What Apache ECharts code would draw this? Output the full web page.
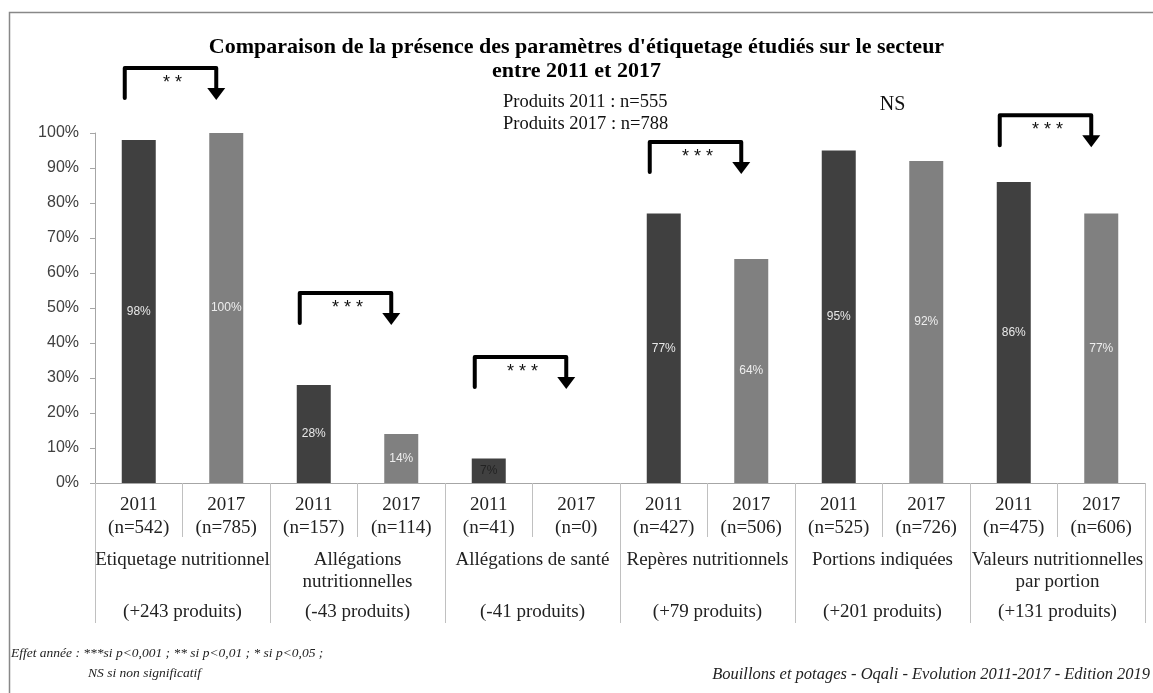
<!DOCTYPE html>
<html><head><meta charset="utf-8">
<script src="https://cdn.jsdelivr.net/npm/echarts@6/dist/echarts.min.js"></script>
<style>html,body{margin:0;padding:0;background:#fff}#c{width:1153px;height:693px}</style>
</head><body><div id="c"></div>
<script>
const groups = ['Etiquetage nutritionnel', 'Allégations\nnutritionnelles', 'Allégations de santé', 'Repères nutritionnels', 'Portions indiquées', 'Valeurs nutritionnelles\npar portion'];
const n2011 = [542, 157, 41, 427, 525, 475];
const n2017 = [785, 114, 0, 506, 726, 606];
const pct2011 = [98, 28, 7, 77, 95, 86];
const pct2017 = [100, 14, 0, 64, 92, 77];
const diffLabels = ['(+243 produits)', '(-43 produits)', '(-41 produits)', '(+79 produits)', '(+201 produits)', '(+131 produits)'];
const signif = ['* *', '* * *', '* * *', '* * *', 'NS', '* * *'];
const bracketLevels = [118.6, 54.3, 36, 97.4, 108, 105.1];
const yTicks = [0, 10, 20, 30, 40, 50, 60, 70, 80, 90, 100];

const cats = [];
const barData = [];
groups.forEach((g, i) => {
  cats.push('2011\n(n=' + n2011[i] + ')');
  cats.push('2017\n(n=' + n2017[i] + ')');
  barData.push({value: pct2011[i], itemStyle: {color: '#404040'}, label: {color: pct2011[i] < 10 ? '#222' : '#e8e8e8'}});
  barData.push({value: pct2017[i], itemStyle: {color: '#808080'}, label: {color: '#eeeeee'}});
});
const groupLabels = groups.map((g, i) => {
  const parts = g.split('\n');
  return (parts[0]) + '\n' + (parts[1] || ' ') + '\n{p|' + diffLabels[i] + '}';
});

const chart = echarts.init(document.getElementById('c'));
const serif = 'Liberation Serif';
chart.setOption({
  animation: false,
  title: {
    text: "Comparaison de la présence des paramètres d'étiquetage étudiés sur le secteur\nentre 2011 et 2017",
    left: 'center', top: 30,
    textStyle: {fontFamily: serif, fontWeight: 'bold', fontSize: 22, lineHeight: 24, color: '#000'}
  },
  grid: {left: 95, right: 8, top: 133, bottom: 210},
  xAxis: [{
    type: 'category', data: cats,
    axisLine: {show: true, lineStyle: {color: '#a6a6a6'}},
    axisTick: {show: true, alignWithLabel: false, interval: 0, length: 54, lineStyle: {color: '#c0c0c0'}},
    axisLabel: {interval: 0, margin: 11, fontFamily: serif, fontSize: 19, lineHeight: 23, color: '#222'}
  }, {
    type: 'category', data: groupLabels, position: 'bottom', offset: 0,
    axisLine: {show: false},
    axisTick: {show: true, alignWithLabel: false, interval: 0, length: 140, lineStyle: {color: '#c0c0c0'}},
    axisLabel: {interval: 0, margin: 66, fontFamily: serif, fontSize: 19, lineHeight: 22, color: '#222',
      rich: {p: {fontFamily: serif, fontSize: 19, lineHeight: 38, color: '#222'}}}
  }],
  yAxis: {
    type: 'value', min: 0, max: 100, interval: 10,
    axisLine: {show: true, lineStyle: {color: '#a6a6a6'}},
    axisTick: {show: true, length: 5, lineStyle: {color: '#a6a6a6'}},
    splitLine: {show: false},
    axisLabel: {formatter: '{value}%', fontFamily: 'Liberation Sans', fontSize: 16, color: '#404040', margin: 16}
  },
  series: [{
    type: 'bar', xAxisIndex: 0, yAxisIndex: 0, data: barData, barWidth: 34,
    label: {show: true, position: 'inside', fontFamily: 'Liberation Sans', fontSize: 12,
      formatter: p => p.value ? p.value + '%' : ''}
  }]
});

const els = [];
els.push({type: 'rect', shape: {x: 9.5, y: 12.5, width: 1300, height: 900}, style: {fill: 'none', stroke: '#888', lineWidth: 1.5}, z: 0, silent: true});
signif.forEach((s, i) => {
  const lv = bracketLevels[i];
  const pL = chart.convertToPixel({xAxisIndex: 0, yAxisIndex: 0}, [2 * i, lv]);
  const pR = chart.convertToPixel({xAxisIndex: 0, yAxisIndex: 0}, [2 * i + 1, lv]);
  if (s === 'NS') {
    els.push({type: 'text', x: (pL[0] + pR[0]) / 2 + 10, y: pL[1], style: {text: 'NS', font: '20px "Liberation Serif"', fill: '#111', align: 'center', verticalAlign: 'middle'}});
    return;
  }
  const xl = pL[0] - 14, xr = pR[0] - 10, yt = pL[1];
  els.push({type: 'polyline', shape: {points: [[xl, yt + 30], [xl, yt], [xr, yt], [xr, yt + 22]]}, style: {stroke: '#000', lineWidth: 4, lineCap: 'round', lineJoin: 'round', fill: null}});
  els.push({type: 'polygon', shape: {points: [[xr - 9, yt + 20], [xr + 9, yt + 20], [xr, yt + 32]]}, style: {fill: '#000'}});
  els.push({type: 'text', x: (xl + xr) / 2 + 2, y: yt + 15, style: {text: s, font: '18px "Liberation Sans"', fill: '#111', align: 'center', verticalAlign: 'middle'}});
});
els.push({type: 'text', x: 503, y: 102, style: {text: 'Produits 2011 : n=555', font: '18.5px "Liberation Serif"', fill: '#111', verticalAlign: 'middle'}});
els.push({type: 'text', x: 503, y: 124, style: {text: 'Produits 2017 : n=788', font: '18.5px "Liberation Serif"', fill: '#111', verticalAlign: 'middle'}});
els.push({type: 'text', x: 11, y: 653, style: {text: 'Effet année : ***si p<0,001 ; ** si p<0,01 ; * si p<0,05 ;', font: 'italic 13.5px "Liberation Serif"', fill: '#222', verticalAlign: 'middle'}});
els.push({type: 'text', x: 88, y: 673, style: {text: 'NS si non significatif', font: 'italic 13.5px "Liberation Serif"', fill: '#222', verticalAlign: 'middle'}});
els.push({type: 'text', x: 1150, y: 675, style: {text: 'Bouillons et potages - Oqali - Evolution 2011-2017 - Edition 2019', font: 'italic 16.5px "Liberation Serif"', fill: '#222', align: 'right', verticalAlign: 'middle'}});
chart.setOption({graphic: {elements: els}});
</script></body></html>
